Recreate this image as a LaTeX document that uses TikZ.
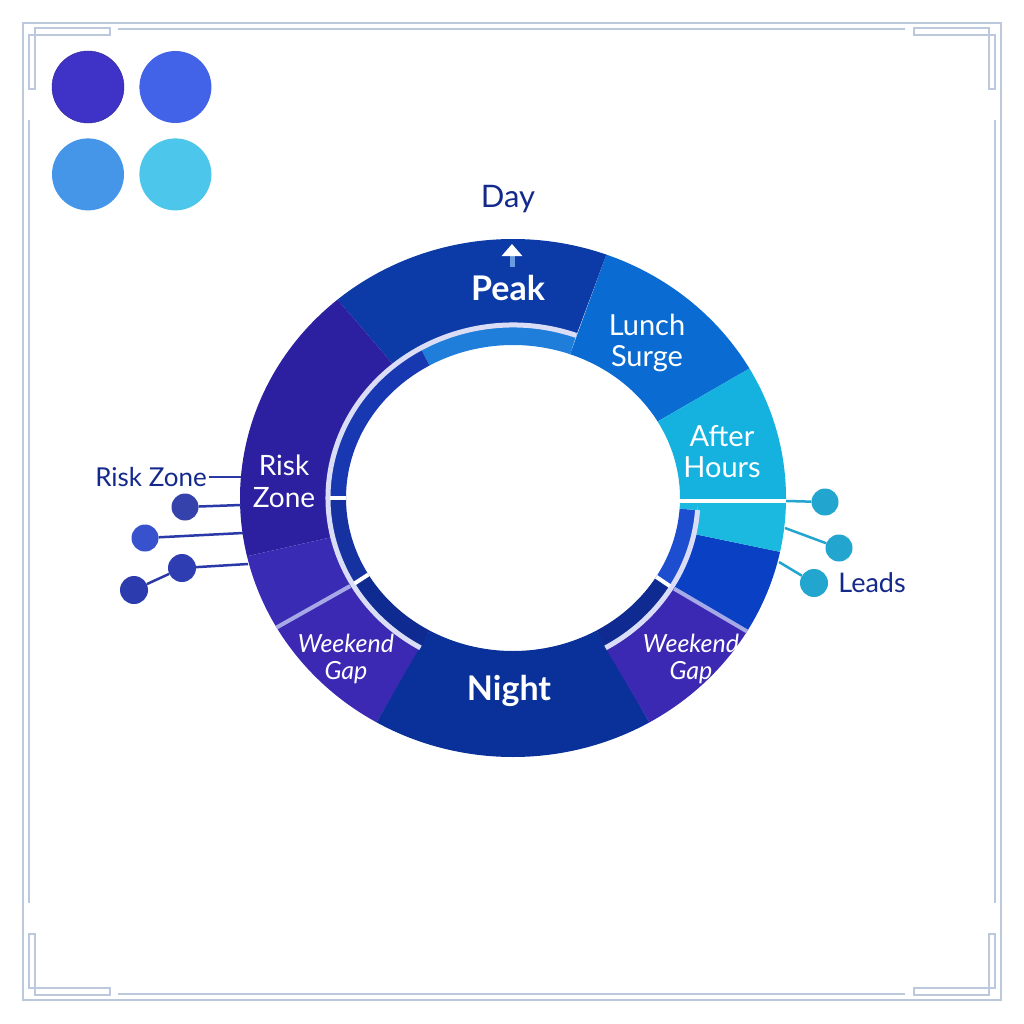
\documentclass[tikz,border=0pt]{standalone}
\usepackage{fontspec}
\setmainfont{Lato}
\usetikzlibrary{arrows.meta,positioning}
\definecolor{ClkNavy}{HTML}{14298C}
\definecolor{ClkFrame}{HTML}{BCC8DC}
\definecolor{ClkIndigo}{HTML}{3F33C7}
\definecolor{ClkRoyal}{HTML}{4263E8}
\definecolor{ClkAzure}{HTML}{4596E8}
\definecolor{ClkAqua}{HTML}{4CC6EA}
\definecolor{ClkPeak}{HTML}{0C3BA7}
\definecolor{ClkLunch}{HTML}{0A6CD3}
\definecolor{ClkAfter}{HTML}{16B2DF}
\definecolor{ClkCyan}{HTML}{1BB9E0}
\definecolor{ClkBlue}{HTML}{0A40C4}
\definecolor{ClkGap}{HTML}{3B29B3}
\definecolor{ClkNight}{HTML}{0A3199}
\definecolor{ClkViolet}{HTML}{3A2BB5}
\definecolor{ClkRisk}{HTML}{2C20A0}
\definecolor{ClkSky}{HTML}{1E7EDA}
\definecolor{ClkMid}{HTML}{1838B2}
\definecolor{ClkDeep}{HTML}{0F2B92}
\definecolor{ClkBright}{HTML}{1D4ED0}
\definecolor{ClkRim}{HTML}{DADDF5}
\definecolor{ClkLilac}{HTML}{A6A9E6}
\definecolor{ClkStem}{HTML}{6A9BE0}
\definecolor{ClkWire}{HTML}{2A38A8}
\definecolor{ClkTeal}{HTML}{22A5CF}
\tikzset{
  clkswatch/.style={circle,minimum size=72pt,inner sep=0pt},
  clkbig/.style={text=white,font=\fontsize{34}{37}\selectfont\bfseries,inner sep=0pt},
  clklabel/.style={text=white,align=center,font=\fontsize{29}{31}\selectfont,inner sep=0pt},
  clkweek/.style={text=white,align=center,font=\fontsize{25}{27}\selectfont\itshape,inner sep=0pt},
  clkside/.style={text=ClkNavy,font=\fontsize{26}{30}\selectfont,inner sep=2pt},
  clkdot/.style={circle,minimum size=27pt,inner sep=0pt},
  clkwire/.style={draw=ClkWire,line width=2.5pt},
  clkframe/.style={draw=ClkFrame,line width=1.4pt},
  clkrim/.style={draw=ClkRim,line width=5pt},
  clktick/.style={draw=white,line width=4pt},
  clksplit/.style={draw=ClkLilac,line width=4pt}
}
% outer band piece: colour, from, to, inner x radius, inner y radius
\newcommand{\clkband}[5]{%
  \fill[#1] (#2:273 and 259) arc[start angle=#2,end angle=#3,x radius=273,y radius=259]
    -- (#3:#4 and #5) arc[start angle=#3,end angle=#2,x radius=#4,y radius=#5] -- cycle;}
% inner band piece: colour, from, to
\newcommand{\clkinner}[3]{%
  \fill[#1] (#2:185 and 173) arc[start angle=#2,end angle=#3,x radius=185,y radius=173]
    -- (#3:167 and 153) arc[start angle=#3,end angle=#2,x radius=167,y radius=153] -- cycle;}

\begin{document}
\begin{tikzpicture}[x=1pt,y=1pt]
  \fill[white] (0,0) rectangle (1024,-1024);
  \useasboundingbox (0,0) rectangle (1024,-1024);

  % frame
  \draw[clkframe] (23,-23) rectangle (1001,-1000);
  \draw[clkframe] (118,-29) -- (905,-29);
  \draw[clkframe] (118,-994) -- (905,-994);
  \draw[clkframe] (29,-120) -- (29,-903);
  \draw[clkframe] (995,-120) -- (995,-903);
  \foreach \sx/\sy in {1/1,-1/1,1/-1,-1/-1}{
    \begin{scope}[shift={(512,-511.5)},xscale=\sx,yscale=\sy]
      \draw[clkframe] (-483,476.5) -- (-402,476.5) -- (-402,483.5) -- (-477,483.5)
        -- (-477,422.5) -- (-483,422.5) -- cycle;
    \end{scope}
  }

  % swatches
  \node[clkswatch,fill=ClkIndigo,draw=ClkIndigo!75!black] (swA) at (88,-87) {};
  \node[clkswatch,fill=ClkRoyal,right=15pt of swA] (swB) {};
  \node[clkswatch,fill=ClkAzure,below=15pt of swA] (swC) {};
  \node[clkswatch,fill=ClkAqua,right=15pt of swC] (swD) {};

  % ring
  \begin{scope}[shift={(513,-498)}]
    \clkband{ClkLunch}{30}{70}{167}{153}
    \clkband{ClkPeak}{70}{130}{185}{173}
    \clkband{ClkRisk}{130}{193}{185}{173}
    \clkband{ClkViolet}{193}{210}{185}{173}
    \clkband{ClkGap}{210}{240}{185}{173}
    \clkband{ClkNight}{240}{300}{167}{153}
    \clkband{ClkGap}{300}{329}{185}{173}
    \clkband{ClkBlue}{329}{348}{185}{173}
    \clkband{ClkCyan}{348}{359}{185}{173}
    \clkband{ClkAfter}{-1}{30}{167}{153}
    \clkinner{ClkSky}{70}{120}
    \clkinner{ClkMid}{120}{180}
    \clkinner{ClkMid!90!black}{180}{210}
    \clkinner{ClkDeep}{210}{240}
    \clkinner{ClkDeep}{300}{329}
    \clkinner{ClkBright}{329}{356}
    \clkinner{ClkCyan}{356}{359}
    \draw[clkrim] (70:185 and 173) arc[start angle=70,end angle=240,x radius=185,y radius=173];
    \draw[clkrim] (300:185 and 173) arc[start angle=300,end angle=356,x radius=185,y radius=173];
    \foreach \a in {180,210,329}
      \draw[clktick] (\a:167 and 153) -- (\a:183 and 171);
    \foreach \a in {210,329}
      \draw[clksplit] (\a:188 and 176) -- (\a:273 and 259);
  \end{scope}
  \coordinate (ahInner) at (679,-501);
  \coordinate (ahEdge) at (786,-501);
  \draw[clktick] (ahInner) -- (ahEdge);

  % labels on the ring
  \node[clkbig,anchor=base] (peak) at (508,-300) {Peak};
  \node[clkbig,anchor=base] (night) at (509,-700) {Night};
  \node[clklabel] (lunch) at (647,-343) {Lunch\\Surge};
  \node[clklabel] (after) at (722,-452) {After\\Hours};
  \node[clklabel,font=\fontsize{28}{32}\selectfont] (risk) at (284,-481) {Risk\\Zone};
  \node[clkweek] (gapL) at (346,-659) {Weekend\\Gap};
  \node[clkweek] (gapR) at (691,-659) {Weekend\\Gap};

  % day marker
  \node[clkside,anchor=base,font=\fontsize{31}{34}\selectfont] (day) at (508,-208) {Day};
  \coordinate (arrowFoot) at (512,-267);
  \coordinate (arrowTip) at (512,-244);
  \draw[draw=ClkStem,line width=5pt,-{Triangle[color=white,width=20pt,length=12pt]}] (arrowFoot) -- (arrowTip);

  % left side
  \node[clkside,anchor=east] (riskOut) at (209,-477) {Risk Zone};
  \coordinate (riskEdge) at (241,-477);
  \draw[clkwire,line width=2pt] (riskOut.east) -- (riskEdge);
  \node[clkdot,fill=ClkWire!95!white] (dotA) at (185,-507) {};
  \node[clkdot,fill=ClkRoyal!60!ClkWire] (dotB) at (145,-538) {};
  \node[clkdot,fill=ClkWire!85!ClkRoyal,minimum size=28pt] (dotC) at (182,-568) {};
  \node[clkdot,fill=ClkWire!90!ClkRoyal,minimum size=28pt] (dotD) at (134,-590) {};
  \coordinate (edgeA) at (241,-505);
  \coordinate (edgeB) at (243,-533);
  \coordinate (edgeC) at (248,-564);
  \draw[clkwire] (dotA) -- (edgeA);
  \draw[clkwire] (dotB) -- (edgeB);
  \draw[clkwire] (dotC) -- (edgeC);
  \draw[clkwire] (dotD) -- (dotC);

  % right side
  \node[clkdot,fill=ClkTeal] (dotE) at (825,-502) {};
  \node[clkdot,fill=ClkTeal] (dotF) at (839,-548) {};
  \node[clkdot,fill=ClkTeal,minimum size=28pt] (dotG) at (814,-583) {};
  \coordinate (edgeF) at (785,-528);
  \coordinate (edgeG) at (779,-562);
  \draw[clkwire,draw=ClkTeal] (ahEdge) -- (dotE);
  \draw[clkwire,draw=ClkTeal] (edgeF) -- (dotF);
  \draw[clkwire,draw=ClkTeal] (edgeG) -- (dotG);
  \node[clkside,font=\fontsize{27}{30}\selectfont,right=8pt of dotG] (leads) {Leads};
\end{tikzpicture}
\end{document}
